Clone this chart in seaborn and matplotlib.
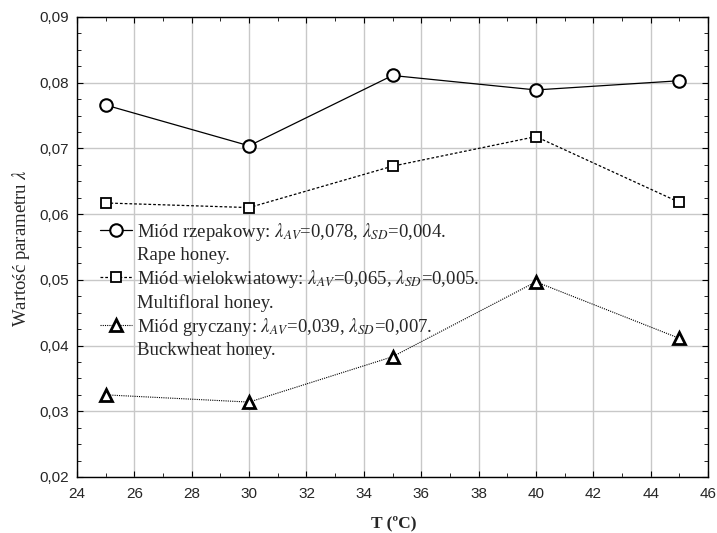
import matplotlib
matplotlib.use("Agg")
import matplotlib.pyplot as plt
from matplotlib.lines import Line2D
from matplotlib.ticker import MultipleLocator, FuncFormatter
import seaborn as sns
import pandas as pd

sns.set_style("white")
plt.rcParams["mathtext.fontset"] = "stix"

# Temperature (°C) and lambda parameter values for each honey
temperature = [25, 30, 35, 40, 45]
rape = [0.0766, 0.0704, 0.0811, 0.0789, 0.0803]
multifloral = [0.0617, 0.0610, 0.0673, 0.0718, 0.0618]
buckwheat = [0.0325, 0.0314, 0.0383, 0.0497, 0.0411]

labels_pl = [
    r"Miód rzepakowy: $\lambda_{AV}$=0,078, $\lambda_{SD}$=0,004.",
    r"Miód wielokwiatowy: $\lambda_{AV}$=0,065, $\lambda_{SD}$=0,005.",
    r"Miód gryczany: $\lambda_{AV}$=0,039, $\lambda_{SD}$=0,007.",
]
labels_en = ["Rape honey.", "Multifloral honey.", "Buckwheat honey."]

x_ticks = [24, 26, 28, 30, 32, 34, 36, 38, 40, 42, 44, 46]
y_ticks = [0.02, 0.03, 0.04, 0.05, 0.06, 0.07, 0.08, 0.09]

W, H = 717, 533
fig = plt.figure(figsize=(W / 100, H / 100), dpi=100)
ax = fig.add_axes([77 / W, 1 - 477 / H, 631 / W, 460 / H])

styles = [
    dict(marker="o", markersize=9.0, markeredgewidth=1.5, linestyle="-", linewidth=0.9),
    dict(marker="s", markersize=6.8, markeredgewidth=1.3, linestyle=(0, (2.2, 1.6)), linewidth=0.9),
    dict(marker="^", markersize=9.0, markeredgewidth=2.0, linestyle=(0, (1.0, 1.0)), linewidth=0.8),
]

series = [rape, multifloral, buckwheat]
for values, st in zip(series, styles):
    df = pd.DataFrame({"T": temperature, "lam": values})
    sns.lineplot(data=df, x="T", y="lam", ax=ax, color="black",
                 markerfacecolor="white", markeredgecolor="black",
                 zorder=3, **st)

ax.set_xlim(24, 46)
ax.set_ylim(0.02, 0.09)
ax.set_xticks(x_ticks)
ax.set_yticks(y_ticks)
ax.xaxis.set_minor_locator(MultipleLocator(1))
ax.yaxis.set_minor_locator(MultipleLocator(0.0025))
ax.yaxis.set_major_formatter(FuncFormatter(lambda v, p: f"{v:.2f}".replace(".", ",")))
ax.xaxis.set_major_formatter(FuncFormatter(lambda v, p: f"{v:.0f}"))

ax.grid(True, which="major", color="#c8c8c8", linewidth=1.0, zorder=0)
ax.set_axisbelow(True)
for sp in ax.spines.values():
    sp.set_color("black")
    sp.set_linewidth(1.0)

ax.tick_params(which="both", direction="in", top=True, right=True,
               bottom=True, left=True, color="black")
ax.tick_params(which="major", length=4, width=0.8)
ax.tick_params(which="minor", length=3, width=0.6)
for lab in ax.get_xticklabels() + ax.get_yticklabels():
    lab.set_fontfamily("Liberation Sans")
    lab.set_fontsize(11)
ax.tick_params(axis="x", pad=7)
ax.tick_params(axis="y", pad=6)
ax.set_xlabel("")
ax.set_ylabel("")

fig.text(394 / W, 1 - 523 / H, "T (ºC)", family="Liberation Serif",
         fontweight="bold", fontsize=12.5, ha="center", va="center")
fig.text(21 / W, 1 - 248 / H, r"Wartość parametru $\lambda$", family="Liberation Serif",
         fontsize=13.5, rotation=90, ha="center", va="center")

# Legend: marker row with Polish description, then an English line without marker
handles, texts = [], []
for st, lp, le in zip(styles, labels_pl, labels_en):
    handles.append(Line2D([], [], color="black", markerfacecolor="white",
                          markeredgecolor="black", **st))
    texts.append(lp)
    handles.append(Line2D([], [], linestyle="none", marker=None))
    texts.append(le)

leg = ax.legend(handles, texts, loc="upper left",
                bbox_to_anchor=(100 / W, 1 - 221 / H), bbox_transform=fig.transFigure,
                frameon=False, prop={"family": "Liberation Serif", "size": 13.5},
                handlelength=1.7, handletextpad=0.28, labelspacing=0.21,
                borderaxespad=0, borderpad=0)

fig.savefig("out.png", dpi=100)
